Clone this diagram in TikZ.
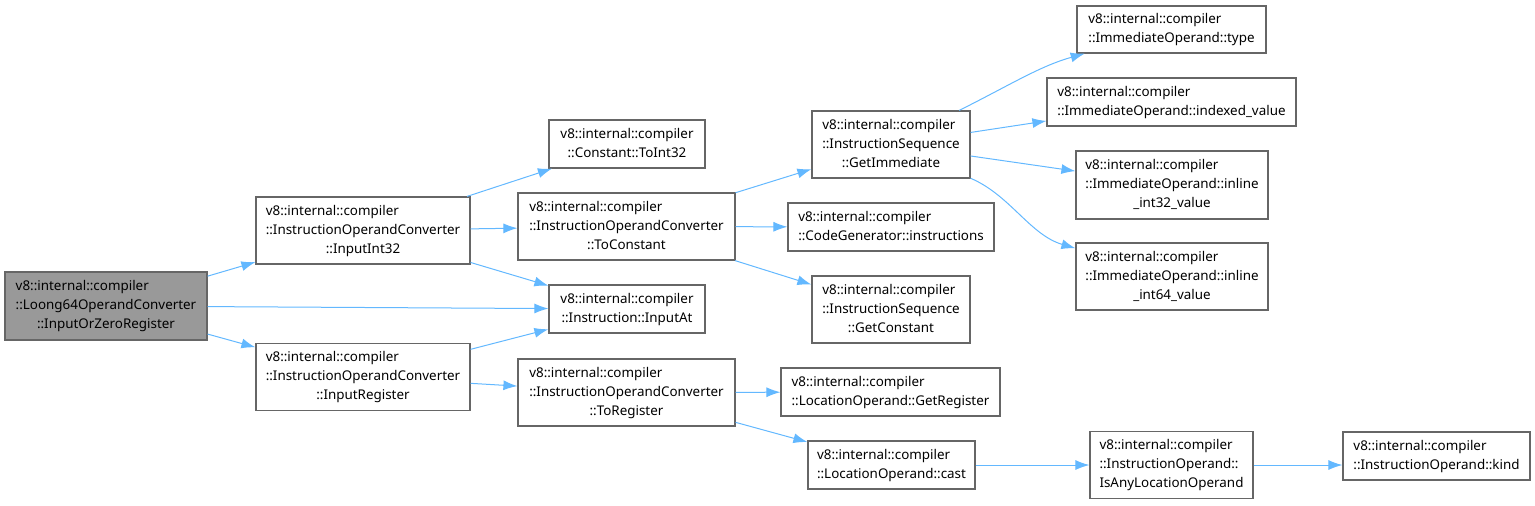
\documentclass[tikz,border=0pt]{standalone}
\usepackage{fontspec}
\setmainfont{Noto Sans}
\usepackage{tikz}
\usetikzlibrary{
  arrows.meta
}
\definecolor{edgeblue}{RGB}{99,184,255}
\definecolor{boxgrey}{RGB}{102,102,102}
\definecolor{rootgrey}{RGB}{153,153,153}
% first lines flush left, last line centred
\newcommand{\fnlines}[2]{\begin{tabular}{@{}l@{}}#1\\\multicolumn{1}{@{}c@{}}{#2}\end{tabular}}

\begin{document}
\begin{tikzpicture}[x=0.5pt, y=-0.5pt,
  fn/.style={draw=boxgrey, line width=0.6pt, fill=white, inner sep=0pt,
    font=\fontsize{6.7}{9.5}\selectfont},
  fnroot/.style={fn, fill=rootgrey},
  call/.style={draw=edgeblue, line width=0.5pt, -{Latex[length=7pt,width=5pt]}}]
  \useasboundingbox (0,0) rectangle (1535,505);

  % column 1
  \node[fnroot, minimum width=101pt, minimum height=34pt] (root) at (106,306)
    {\fnlines{v8::internal::compiler\\::Loong64OperandConverter}{::InputOrZeroRegister}};

  % column 2
  \node[fn, minimum width=107pt, minimum height=33.5pt] (inint) at (363,230.5)
    {\fnlines{v8::internal::compiler\\::InstructionOperandConverter}{::InputInt32}};
  \node[fn, minimum width=107pt, minimum height=33.5pt] (inreg) at (363,377)
    {\fnlines{v8::internal::compiler\\::InstructionOperandConverter}{::InputRegister}};

  % column 3
  \node[fn, minimum width=78pt, minimum height=24pt] (toint) at (627,144)
    {\fnlines{v8::internal::compiler}{::Constant::ToInt32}};
  \node[fn, minimum width=108.5pt, minimum height=33.5pt] (tocon) at (626.5,226.5)
    {\fnlines{v8::internal::compiler\\::InstructionOperandConverter}{::ToConstant}};
  \node[fn, minimum width=78pt, minimum height=24pt] (inat) at (627,309)
    {\fnlines{v8::internal::compiler}{::Instruction::InputAt}};
  \node[fn, minimum width=108.5pt, minimum height=33.5pt] (toreg) at (626.5,392.5)
    {\fnlines{v8::internal::compiler\\::InstructionOperandConverter}{::ToRegister}};

  % column 4
  \node[fn, minimum width=79pt, minimum height=33.5pt] (getimm) at (891,144.5)
    {\fnlines{v8::internal::compiler\\::InstructionSequence}{::GetImmediate}};
  \node[fn, minimum width=103pt, minimum height=24pt] (instr) at (891,227)
    {\fnlines{v8::internal::compiler}{::CodeGenerator::instructions}};
  \node[fn, minimum width=79pt, minimum height=33.5pt] (getcon) at (891,309.5)
    {\fnlines{v8::internal::compiler\\::InstructionSequence}{::GetConstant}};
  \node[fn, minimum width=109.5pt, minimum height=24pt] (getreg) at (890.5,392)
    {\fnlines{v8::internal::compiler}{::LocationOperand::GetRegister}};
  \node[fn, minimum width=83.5pt, minimum height=24pt] (cast) at (891.5,465)
    {\fnlines{v8::internal::compiler}{::LocationOperand::cast}};

  % column 5
  \node[fn, minimum width=94.5pt, minimum height=23.5pt] (imtype) at (1171.5,29.5)
    {\fnlines{v8::internal::compiler}{::ImmediateOperand::type}};
  \node[fn, minimum width=124.5pt, minimum height=24pt] (imidx) at (1171.5,102)
    {\fnlines{v8::internal::compiler}{::ImmediateOperand::indexed\_value}};
  \node[fn, minimum width=96pt, minimum height=34pt] (imi32) at (1172,185)
    {\fnlines{v8::internal::compiler\\::ImmediateOperand::inline}{\_int32\_value}};
  \node[fn, minimum width=96pt, minimum height=33.5pt] (imi64) at (1172,276.5)
    {\fnlines{v8::internal::compiler\\::ImmediateOperand::inline}{\_int64\_value}};
  \node[fn, minimum width=81.5pt, minimum height=33.5pt] (isany) at (1171.5,465)
    {\fnlines{v8::internal::compiler\\::InstructionOperand::}{IsAnyLocationOperand}};

  % column 6
  \node[fn, minimum width=93.5pt, minimum height=24pt] (kind) at (1436.5,456)
    {\fnlines{v8::internal::compiler}{::InstructionOperand::kind}};

  % calls
  \draw[call] (root) -- (inint);
  \draw[call] (root) -- (inat);
  \draw[call] (root) -- (inreg);
  \draw[call] (inint) -- (toint);
  \draw[call] (inint) -- (tocon);
  \draw[call] (inint) -- (inat);
  \draw[call] (inreg) -- (inat);
  \draw[call] (inreg) -- (toreg);
  \draw[call] (tocon) -- (getimm);
  \draw[call] (tocon) -- (instr);
  \draw[call] (tocon) -- (getcon);
  \draw[call] (toreg) -- (getreg);
  \draw[call] (toreg) -- (cast);
  \draw[call] (getimm) .. controls (1010,85) and (1040,66) .. (imtype);
  \draw[call] (getimm) -- (imidx);
  \draw[call] (getimm) -- (imi32);
  \draw[call] (getimm) .. controls (1010,195) and (1030,235) .. (imi64);
  \draw[call] (cast) -- (isany);
  \draw[call] (isany.east) -- (kind.west |- isany.east);
\end{tikzpicture}
\end{document}
